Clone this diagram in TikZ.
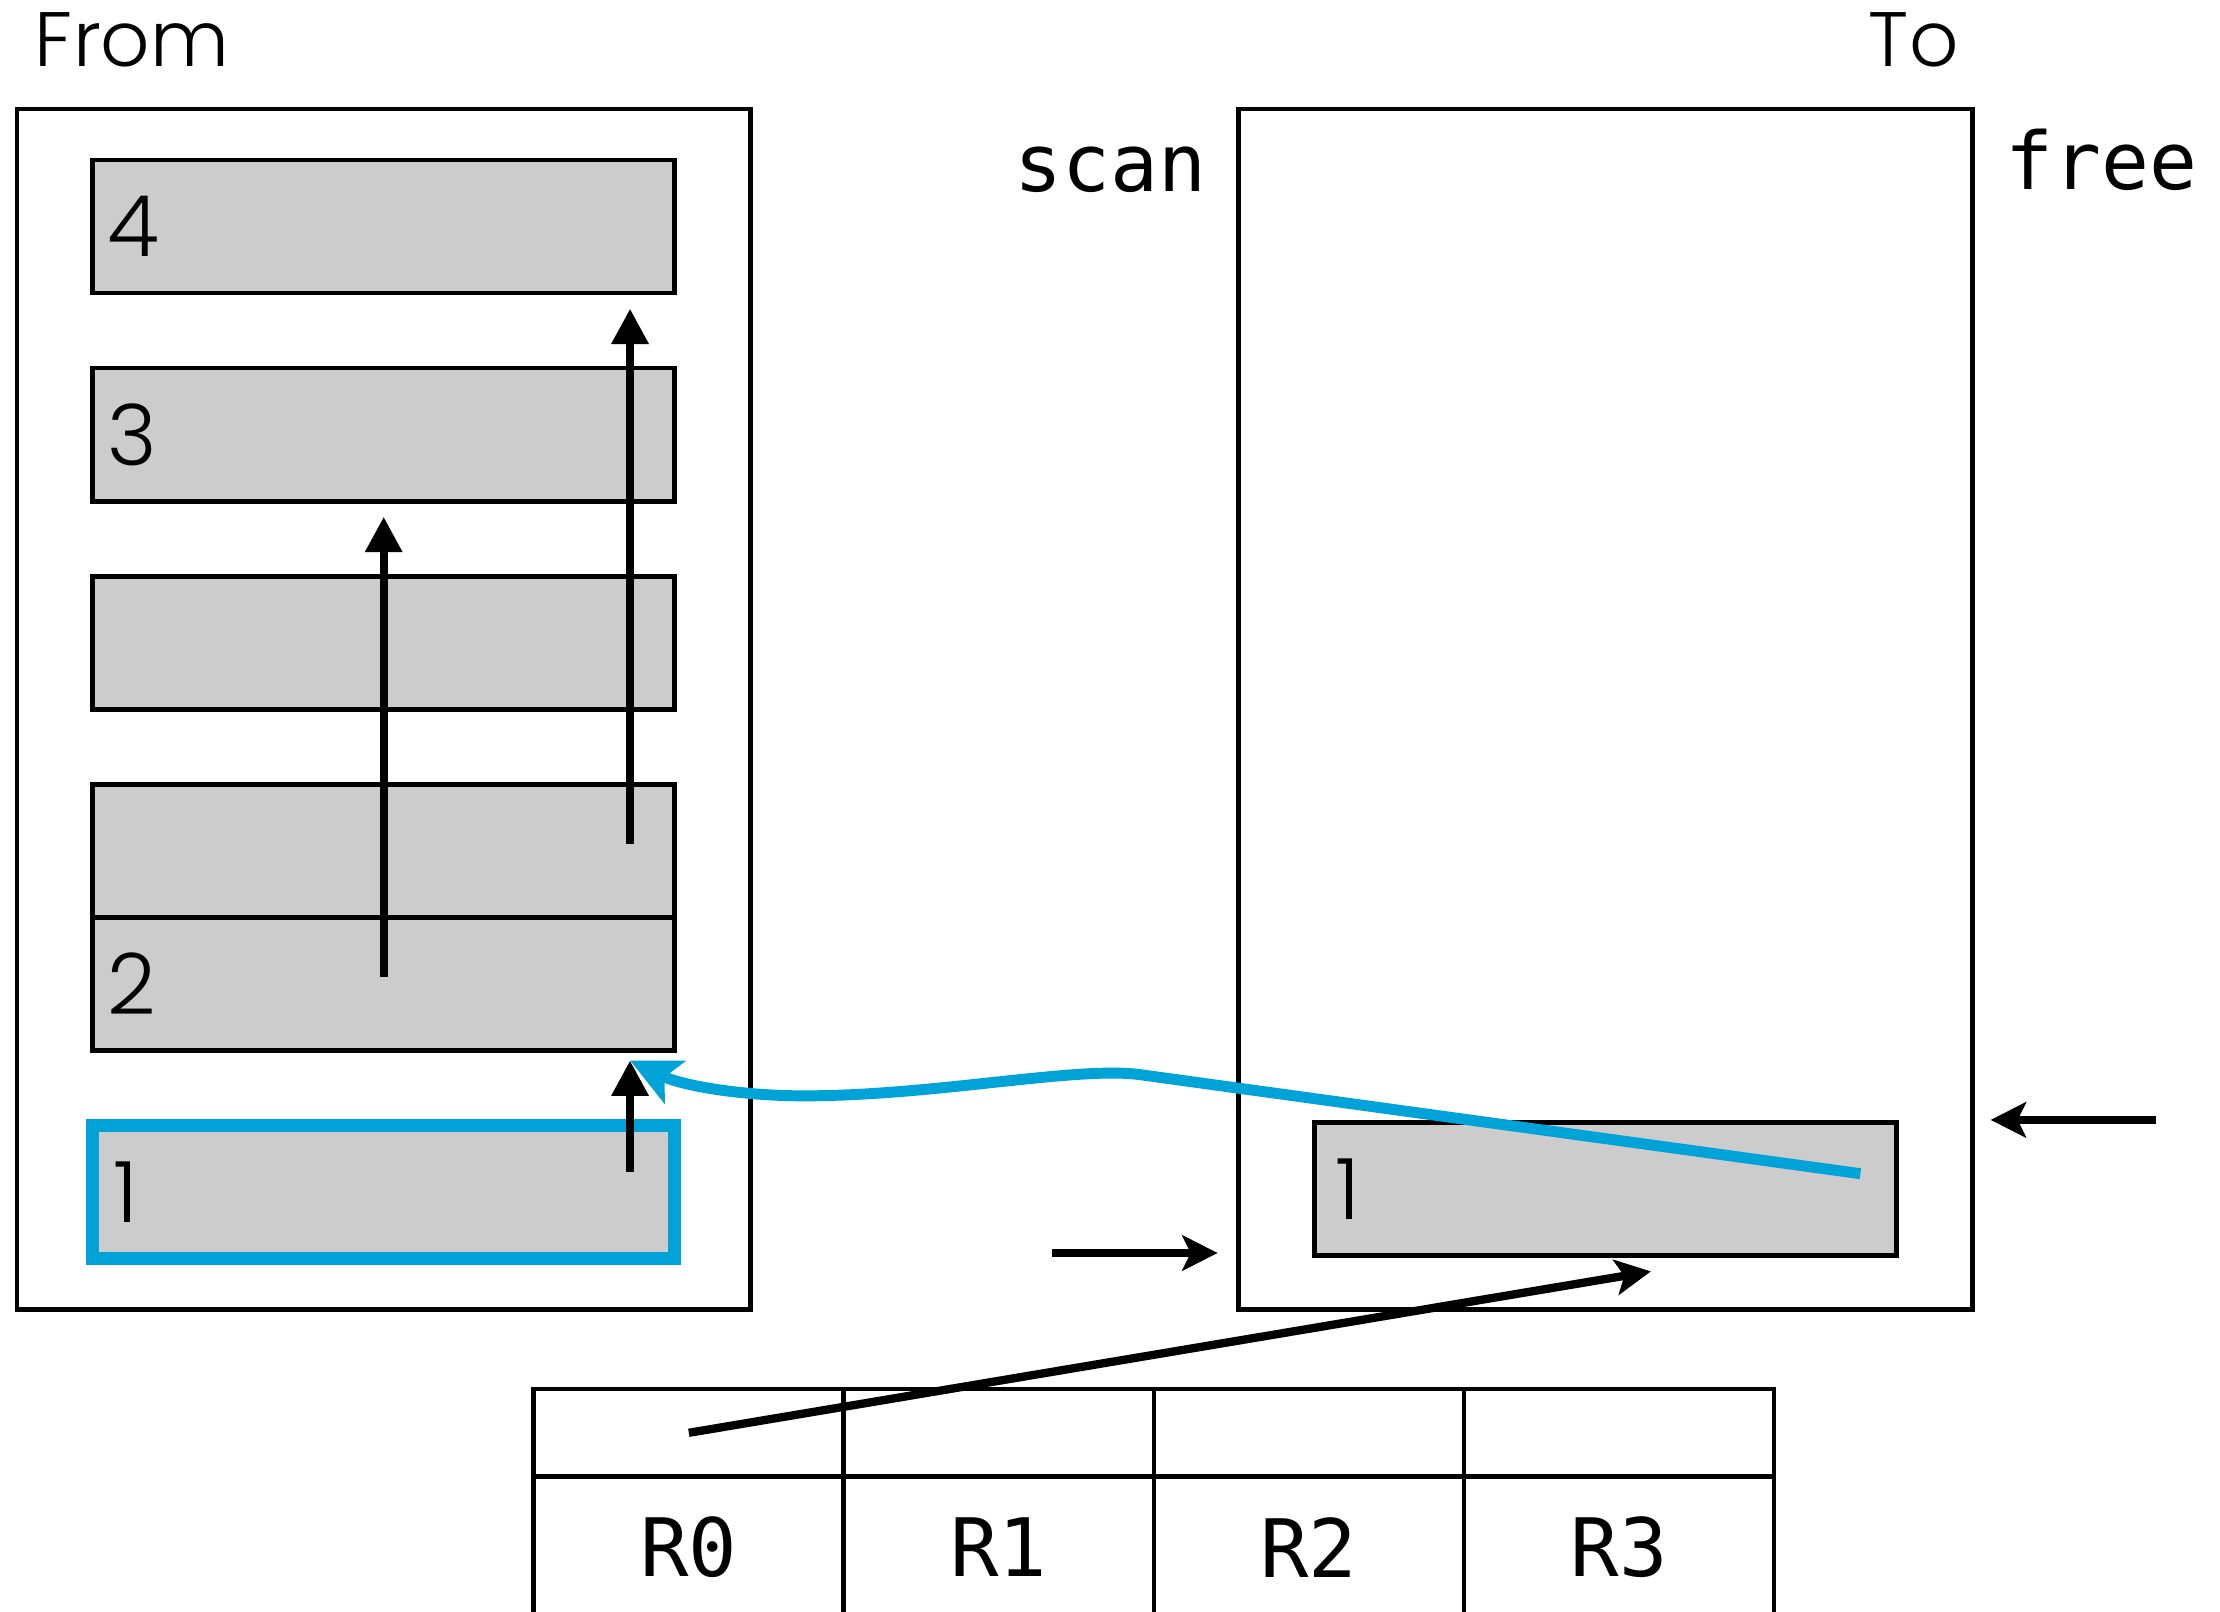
\documentclass[tikz,border=0pt]{standalone}
\usepackage{fontspec}
\setmainfont{Poppins}[UprightFont=* Light]
\setmonofont{DejaVu Sans Mono}
\definecolor{gcblue}{HTML}{00A3D7}
\definecolor{gcgray}{HTML}{CCCCCC}
\usetikzlibrary{arrows.meta,positioning}

\begin{document}
\begin{tikzpicture}[
    node distance=0.53cm,
    space/.style={draw, line width=0.96pt, minimum width=5.18cm,
                  minimum height=8.48cm, inner sep=0pt, outer sep=0pt},
    block/.style={draw, fill=gcgray, line width=0.96pt, minimum width=4.11cm,
                  minimum height=0.94cm, inner sep=0pt, outer sep=0pt},
    live/.style={block, draw=gcblue, line width=2.55pt},
    cell/.style={draw, line width=0.96pt, minimum width=2.19cm, inner sep=0pt,
                 outer sep=0pt, font=\ttfamily\fontsize{16.2}{18}\selectfont},
    num/.style={font=\fontsize{17}{20}\selectfont, inner sep=0pt},
    title/.style={font=\fontsize{15.5}{19}\selectfont, inner sep=0pt},
    ptrlabel/.style={font=\ttfamily\fontsize{16}{18}\selectfont, inner sep=0pt},
    fwd/.style={-{Triangle[length=0.25cm, width=0.25cm]}, line width=1.67pt},
    ptr/.style={-{Stealth[length=0.25cm, width=0.25cm, inset=0.06cm]}, line width=1.67pt},
    moved/.style={-{Stealth[length=0.35cm, width=0.33cm, inset=0.08cm]},
                  line width=2.2pt, gcblue}
]
\useasboundingbox (0,0) rectangle (15.68,-11.38);

% ── From space ──
\node[space] (from) at (2.71,-5.01) {};
\node[block, below=0.36cm of from.north] (b4) {};
\node[block, below=of b4] (b3) {};
\node[block, below=of b3] (be) {};
\node[block, below=of be] (bup) {};
\node[block, below=0pt of bup] (b2) {};
\node[live, below=of b2] (b1) {};

\node[num, right=0.10cm of b4.west] (n4) {4};
\node[num, right=0.10cm of b3.west] (n3) {3};
\node[num, right=0.10cm of b2.west] (n2) {2};
\node[num, right=0.14cm of b1.west] (n1) {1};

% ── To space ──
\node[space, right=3.45cm of from] (to) {};
\node[block, above=0.38cm of to.south] (t1) {};
\node[num, right=0.14cm of t1.west] (m1) {1};

% ── Labels ──
\node[title, above right=0.29cm and 0.12cm of from.north west] (fromlbl) {From};
\node[title, above left=0.29cm and 0.09cm of to.north east] (tolbl) {To};
\node[ptrlabel, anchor=base east] (scanlbl) at ([xshift=-0.22cm, yshift=-0.58cm]to.north west) {scan};
\node[ptrlabel, anchor=base west] (freelbl) at ([xshift=0.23cm, yshift=-0.57cm]to.north east) {free};

% ── Registers ──
\node[cell, minimum height=0.62cm, anchor=north west] (r0a) at (3.77,-9.81) {};
\node[cell, minimum height=0.62cm, right=0pt of r0a] (r1a) {};
\node[cell, minimum height=0.62cm, right=0pt of r1a] (r2a) {};
\node[cell, minimum height=0.62cm, right=0pt of r2a] (r3a) {};
\node[cell, minimum height=1.00cm, below=0pt of r0a] (r0b) {R0};
\node[cell, minimum height=1.00cm, below=0pt of r1a] (r1b) {R1};
\node[cell, minimum height=1.00cm, below=0pt of r2a] (r2b) {R2};
\node[cell, minimum height=1.00cm, below=0pt of r3a] (r3b) {R3};

% ── Forwarding pointers (from space) ──
\coordinate (s4) at (4.45,-5.96);
\coordinate (s3) at (2.71,-6.90);
\coordinate (s2) at (4.45,-8.28);
\coordinate (b2tip) at ([yshift=-0.07cm]s2 |- b2.south);
\draw[fwd] (s4) -- ([yshift=-0.11cm]s4 |- b4.south);
\draw[fwd] (s3) -- ([yshift=-0.11cm]s3 |- b3.south);
\draw[fwd] (s2) -- (b2tip);

% ── scan / free pointers ──
\coordinate (scanp) at (7.43,-8.85);
\coordinate (freep) at (15.23,-7.91);
\draw[ptr, shorten >=0.15cm] (scanp) -- (scanp -| to.west);
\draw[ptr, shorten >=0.13cm] (freep) -- (freep -| to.east);

% ── Root from R0 ──
\coordinate (t1tip) at (11.66,-8.98);
\draw[ptr] (r0a.center) -- (t1tip);

% ── Copied object points back ──
\coordinate (fwd1) at (13.14,-8.29);
\draw[moved] (fwd1) -- (8.05,-7.59)
    .. controls (7.60,-7.53) and (6.60,-7.74) .. (5.68,-7.74)
    .. controls (5.20,-7.74) and (4.80,-7.66) .. (b2tip);

\end{tikzpicture}
\end{document}
